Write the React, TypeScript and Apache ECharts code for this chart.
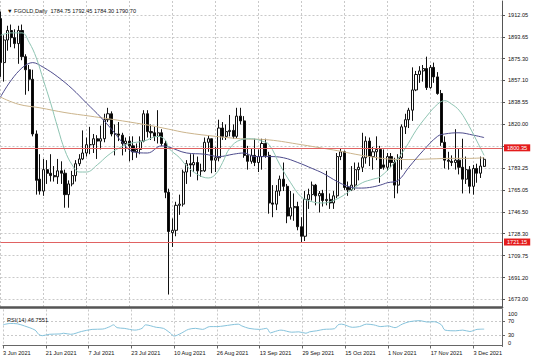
import React, { useEffect, useRef } from 'react';
import * as echarts from 'echarts';

const SYMBOL = 'FGOLD';
const PERIOD = 'Daily';

// trading days shown (one extra Sunday bar on 31 Oct)
const MONTH_DAYS: [string, number[]][] = [
  ['Jun', [3, 4, 7, 8, 9, 10, 11, 14, 15, 16, 17, 18, 21, 22, 23, 24, 25, 28, 29, 30]],
  ['Jul', [1, 2, 5, 6, 7, 8, 9, 12, 13, 14, 15, 16, 19, 20, 21, 22, 23, 26, 27, 28, 29, 30]],
  ['Aug', [2, 3, 4, 5, 6, 9, 10, 11, 12, 13, 16, 17, 18, 19, 20, 23, 24, 25, 26, 27, 30, 31]],
  ['Sep', [1, 2, 3, 6, 7, 8, 9, 10, 13, 14, 15, 16, 17, 20, 21, 22, 23, 24, 27, 28, 29, 30]],
  ['Oct', [1, 4, 5, 6, 7, 8, 11, 12, 13, 14, 15, 18, 19, 20, 21, 22, 25, 26, 27, 28, 29, 31]],
  ['Nov', [1, 2, 3, 4, 5, 8, 9, 10, 11, 12, 15, 16, 17, 18, 19, 22, 23, 24, 25, 26, 29, 30]],
  ['Dec', [1, 2, 3, 6, 7, 8]],
];
const FUTURE_SLOTS = ['f1', 'f2', 'f3', 'f4', 'f5'];

const OPEN = [
  1909, 1872, 1891, 1899, 1893, 1888, 1899, 1877, 1866, 1858,
  1812, 1774, 1764, 1782, 1779, 1777, 1776, 1781, 1779, 1761,
  1770, 1777, 1787, 1791, 1796, 1803, 1803, 1808, 1806, 1808,
  1824, 1829, 1812, 1812, 1811, 1804, 1806, 1802, 1797, 1799,
  1806, 1829, 1814, 1813, 1810, 1813, 1804, 1763, 1729, 1731,
  1752, 1753, 1780, 1787, 1786, 1788, 1781, 1781, 1805, 1808,
  1790, 1792, 1817, 1810, 1814, 1815, 1810, 1827, 1823, 1794,
  1789, 1794, 1788, 1793, 1804, 1794, 1754, 1753, 1764, 1774,
  1768, 1743, 1750, 1751, 1734, 1726, 1757, 1761, 1769, 1760,
  1762, 1756, 1757, 1754, 1760, 1793, 1797, 1767, 1765, 1769,
  1782, 1784, 1792, 1806, 1793, 1797, 1799, 1786, 1784, 1793,
  1788, 1769, 1792, 1818, 1824, 1832, 1849, 1862, 1865, 1867,
  1851, 1868, 1860, 1846, 1805, 1790, 1789, 1788, 1790, 1784,
  1774, 1782, 1768, 1783, 1779, 1784.75,
];
const HIGH = [
  1915, 1895, 1903, 1904, 1900, 1903, 1904, 1879, 1870, 1866,
  1815, 1795, 1791, 1790, 1795, 1785, 1791, 1789, 1782, 1773,
  1781, 1790, 1795, 1815, 1809, 1818, 1812, 1811, 1819, 1829,
  1834, 1831, 1820, 1822, 1813, 1809, 1810, 1810, 1804, 1810,
  1832, 1832, 1820, 1818, 1832, 1816, 1806, 1766, 1741, 1755,
  1761, 1782, 1790, 1795, 1795, 1793, 1787, 1809, 1811, 1808,
  1801, 1824, 1822, 1820, 1828, 1820, 1834, 1834, 1827, 1802,
  1800, 1808, 1799, 1808, 1808, 1797, 1769, 1769, 1777, 1788,
  1770, 1764, 1762, 1755, 1742, 1764, 1766, 1772, 1770, 1764,
  1765, 1781, 1762, 1764, 1796, 1800, 1798, 1772, 1785, 1788,
  1788, 1813, 1810, 1809, 1801, 1810, 1802, 1799, 1796, 1796,
  1792, 1795, 1820, 1829, 1834, 1868, 1865, 1869, 1870, 1877,
  1870, 1872, 1864, 1849, 1810, 1797, 1794, 1816, 1800, 1808,
  1793, 1785, 1786, 1787, 1793, 1792.45,
];
const LOW = [
  1860, 1856, 1882, 1885, 1884, 1871, 1874, 1845, 1848, 1810,
  1761, 1761, 1760, 1770, 1772, 1772, 1770, 1770, 1750, 1750,
  1768, 1772, 1785, 1790, 1793, 1795, 1796, 1791, 1799, 1805,
  1822, 1810, 1794, 1806, 1794, 1797, 1789, 1790, 1792, 1795,
  1805, 1809, 1807, 1806, 1804, 1802, 1758, 1677, 1717, 1726,
  1744, 1751, 1770, 1776, 1780, 1773, 1776, 1780, 1797, 1779,
  1780, 1789, 1807, 1807, 1810, 1808, 1808, 1820, 1792, 1782,
  1787, 1785, 1780, 1782, 1792, 1745, 1742, 1748, 1760, 1764,
  1737, 1740, 1739, 1731, 1721, 1722, 1749, 1756, 1752, 1746,
  1751, 1752, 1749, 1749, 1758, 1790, 1765, 1760, 1764, 1765,
  1773, 1780, 1787, 1785, 1782, 1790, 1771, 1782, 1781, 1784,
  1758, 1762, 1782, 1812, 1817, 1823, 1848, 1855, 1856, 1849,
  1850, 1855, 1845, 1802, 1783, 1782, 1785, 1782, 1778, 1762,
  1770, 1762, 1761, 1771, 1775, 1784.30,
];
const CLOSE = [
  1872, 1891, 1899, 1893, 1888, 1899, 1877, 1866, 1858, 1812,
  1773, 1764, 1782, 1779, 1777, 1776, 1781, 1779, 1761, 1770,
  1777, 1787, 1791, 1796, 1803, 1803, 1808, 1806, 1808, 1824,
  1829, 1812, 1812, 1811, 1804, 1806, 1802, 1797, 1799, 1806,
  1829, 1814, 1813, 1810, 1813, 1804, 1763, 1730, 1731, 1752,
  1753, 1780, 1787, 1786, 1788, 1781, 1781, 1805, 1808, 1790,
  1792, 1817, 1810, 1814, 1815, 1810, 1827, 1823, 1794, 1789,
  1794, 1788, 1793, 1804, 1794, 1754, 1753, 1764, 1774, 1768,
  1743, 1750, 1751, 1734, 1726, 1757, 1761, 1769, 1760, 1762,
  1756, 1757, 1754, 1760, 1793, 1797, 1767, 1765, 1769, 1782,
  1784, 1792, 1806, 1793, 1797, 1799, 1783, 1784, 1793, 1788,
  1769, 1792, 1818, 1824, 1832, 1849, 1862, 1865, 1867, 1851,
  1868, 1860, 1846, 1805, 1790, 1789, 1788, 1790, 1784, 1774,
  1782, 1768, 1783, 1779, 1785, 1790.70,
];

// moving averages: [bar index, price]
const MA_FAST: [number, number][] = [
  [0, 1895], [3, 1897], [6, 1897], [8, 1889], [10, 1876], [12, 1857], [14, 1838], [16, 1817],
  [18, 1798], [20, 1786], [22, 1780], [24, 1780], [27, 1786], [30, 1794], [33, 1800], [36, 1804],
  [40, 1806], [44, 1810], [46, 1807], [47, 1800], [50, 1792], [52, 1785], [55, 1778], [58, 1775],
  [60, 1778], [62, 1788], [64, 1800], [67, 1807], [70, 1808], [73, 1806], [75, 1803], [78, 1786],
  [81, 1771], [84, 1759], [87, 1755], [90, 1754], [92, 1755], [95, 1759], [98, 1765], [101, 1771],
  [104, 1774], [106, 1776], [110, 1788], [113, 1800], [116, 1815], [119, 1827], [122, 1837],
  [124, 1840], [126, 1837], [128, 1832], [130, 1823], [133, 1806], [135, 1794],
];
const MA_MID: [number, number][] = [
  [0, 1843], [9, 1872], [12, 1868], [16, 1860], [20, 1850], [24, 1838], [28, 1826], [31, 1816],
  [34, 1805], [37, 1797], [41, 1796], [45, 1802], [47, 1801], [52, 1796], [57, 1795], [61, 1793],
  [65, 1795], [68, 1796], [71, 1793], [75, 1793], [79, 1792], [83, 1788], [87, 1783], [90, 1779],
  [94, 1772], [97, 1768], [100, 1766.5], [103, 1767], [106, 1769], [108, 1771], [111, 1773],
  [114, 1784], [118, 1798], [122, 1810], [124, 1812], [128, 1813], [132, 1811], [135, 1809],
];
const MA_SLOW: [number, number][] = [
  [0, 1843], [5, 1837], [11, 1834], [18, 1830], [25, 1827], [34, 1823], [42, 1819], [47, 1816],
  [52, 1813], [60, 1810], [67, 1808], [75, 1807], [84, 1803], [90, 1800], [94, 1798], [99, 1795],
  [103, 1793], [108, 1791], [114, 1790.5], [120, 1791], [126, 1791.5], [131, 1791.5], [135, 1792],
];
const RSI: [number, number][] = [
  [0, 59], [2, 63], [4, 62], [6, 56], [9, 44], [10, 32], [11, 28], [13, 32], [16, 33], [17, 35],
  [19, 32], [22, 40], [25, 46], [28, 47], [30, 54], [31, 59], [32, 51], [34, 49], [37, 44], [39, 49],
  [40, 59], [43, 52], [45, 49], [47, 35], [48, 27], [50, 35], [52, 46], [54, 49], [56, 46], [58, 54],
  [60, 54], [62, 56], [64, 59], [66, 61], [67, 56], [69, 49], [72, 46], [74, 49], [75, 36], [76, 39],
  [78, 44], [81, 38], [83, 39], [85, 35], [86, 39], [88, 42], [90, 46], [93, 48], [94, 59], [95, 61],
  [98, 52], [100, 54], [102, 61], [104, 59], [106, 54], [108, 56], [110, 51], [112, 61], [114, 68],
  [117, 71], [119, 67], [121, 68], [123, 59], [124, 44], [127, 42], [129, 44], [131, 40], [133, 46],
  [135, 46.7551],
];

const PRICE_LABELS = [1912.05, 1893.65, 1875.3, 1857.1, 1838.55, 1820.0, 1783.25, 1765.05, 1746.5, 1728.3, 1709.75, 1691.2, 1673.0];
const PRICE_GRID = [1912.05, 1893.65, 1875.3, 1857.1, 1838.55, 1820.0, 1801.6, 1783.25, 1765.05, 1746.5, 1728.3, 1709.75, 1691.2, 1673.0];
const LEVELS = [1800.35, 1721.15];
const RSI_LABELS = [0, 30, 70, 100];
const RSI_GRID = [30, 70];
const RSI_PERIOD = 14;

const FONT = 'Liberation Sans, Arial, sans-serif';
const FS = 5.6;

export default function App() {
  const ref = useRef<HTMLDivElement>(null);
  useEffect(() => {
    const dates: string[] = [];
    MONTH_DAYS.forEach(([m, days]) => days.forEach((d) => dates.push(`${d} ${m} 2021`)));
    const categories = [...dates, ...FUTURE_SLOTS];
    const candles = OPEN.map((o, i) => [o, CLOSE[i], LOW[i], HIGH[i]]);
    const last = OPEN.length - 1;
    const f2 = (v: number) => v.toFixed(2);
    const header = `▼ ${SYMBOL},${PERIOD}  ${f2(OPEN[last])} ${f2(HIGH[last])} ${f2(LOW[last])} ${f2(CLOSE[last])}`;
    const rsiText = `RSI(${RSI_PERIOD}) ${RSI[RSI.length - 1][1].toFixed(4)}`;
    const every12 = (i: number) => i % 12 === 0;
    const dashed = { color: '#c9c9c9', type: [2, 2] as any, width: 1 };

    const chart = echarts.init(ref.current!, null, { renderer: 'svg' });
    chart.setOption({
      animation: false,
      backgroundColor: '#ffffff',
      textStyle: { fontFamily: FONT },
      title: [
        { text: header, left: 2, top: 3, textStyle: { fontSize: FS, fontWeight: 'normal', color: '#111', fontFamily: FONT } },
        { text: rsiText, left: 2, top: 312, textStyle: { fontSize: FS, fontWeight: 'normal', color: '#111', fontFamily: FONT } },
      ],
      grid: [
        { left: 0.5, width: 501.5, top: 1, height: 306.5 },
        { left: 0.5, width: 501.5, top: 309.5, height: 37 },
      ],
      xAxis: [
        {
          type: 'category', gridIndex: 0, data: categories, boundaryGap: false,
          axisLine: { show: true, lineStyle: { color: '#555', width: 2.5 } },
          axisTick: { show: false }, axisLabel: { show: false },
          splitLine: { show: true, interval: every12, lineStyle: dashed },
        },
        {
          type: 'category', gridIndex: 1, data: categories, boundaryGap: false,
          axisLine: { show: true, lineStyle: { color: '#666', width: 1 } },
          axisTick: { show: true, interval: every12, length: 3, lineStyle: { color: '#666' } },
          axisLabel: { interval: every12, align: 'left', fontSize: FS, color: '#111', margin: 3, fontFamily: FONT },
          splitLine: { show: true, interval: every12, lineStyle: dashed },
        },
      ],
      yAxis: [
        {
          type: 'value', gridIndex: 0, position: 'right', min: 1666.1, max: 1923.8,
          axisLine: { show: true, lineStyle: { color: '#555' } },
          axisTick: { show: true, customValues: PRICE_GRID, length: 3, lineStyle: { color: '#555' } },
          axisLabel: { customValues: PRICE_LABELS, formatter: (v: number) => v.toFixed(2), fontSize: FS, color: '#111', margin: 6, fontFamily: FONT },
          splitLine: { show: true, lineStyle: dashed },
        },
        {
          type: 'value', gridIndex: 1, position: 'right', min: -2.9, max: 102.9,
          axisLine: { show: true, lineStyle: { color: '#666' } },
          axisTick: { show: true, customValues: RSI_GRID, length: 3, lineStyle: { color: '#666' } },
          axisLabel: {
            customValues: RSI_LABELS, fontSize: FS, color: '#111', margin: 6, fontFamily: FONT,
            formatter: (v: number) => (v === 100 ? `{a|${v}}` : v === 0 ? `{b|${v}}` : `${v}`),
            rich: { a: { fontSize: FS, padding: [7, 0, 0, 0] }, b: { fontSize: FS, padding: [0, 0, 5, 0] } },
          },
          splitLine: { show: true, lineStyle: dashed },
        },
      ],
      series: [
        {
          type: 'candlestick', name: SYMBOL, xAxisIndex: 0, yAxisIndex: 0, data: candles, barWidth: 2.6, z: 2,
          itemStyle: { color: '#ffffff', color0: '#000000', borderColor: '#111', borderColor0: '#111', borderWidth: 1 },
          markLine: {
            silent: true, symbol: ['none', 'none'], z: 6,
            data: [
              ...LEVELS.map((v) => ({
                yAxis: v,
                lineStyle: { color: '#e06262', width: 1.2, type: 'solid' },
                label: { show: true, position: 'end', distance: 2, formatter: (p: any) => Number(p.value).toFixed(2), color: '#fff', backgroundColor: '#e41c1c', padding: [1, 3, 0, 3], fontSize: FS, fontFamily: FONT },
              })),
              {
                yAxis: CLOSE[last],
                lineStyle: { opacity: 0 },
                label: { show: true, position: 'end', distance: 2, formatter: (p: any) => Number(p.value).toFixed(2), color: '#fff', backgroundColor: '#000', padding: [1, 3, 0, 3], fontSize: FS, fontFamily: FONT },
              },
            ],
          },
        },
        { type: 'line', name: 'MA slow', data: MA_SLOW, smooth: 0.4, symbol: 'none', z: 3, lineStyle: { color: '#cbb48c', width: 1 } },
        { type: 'line', name: 'MA mid', data: MA_MID, smooth: 0.4, symbol: 'none', z: 3, lineStyle: { color: '#4d4b8c', width: 1 } },
        { type: 'line', name: 'MA fast', data: MA_FAST, smooth: 0.4, symbol: 'none', z: 3, lineStyle: { color: '#8ec4b2', width: 1 } },
        { type: 'line', name: 'RSI', xAxisIndex: 1, yAxisIndex: 1, data: RSI, smooth: 0.3, symbol: 'none', z: 3, lineStyle: { color: '#86c3dc', width: 1 } },
      ],
    });
    return () => chart.dispose();
  }, []);
  return <div ref={ref} style={{ position: 'fixed', left: 0, top: 0, width: 536, height: 357 }} />;
}
